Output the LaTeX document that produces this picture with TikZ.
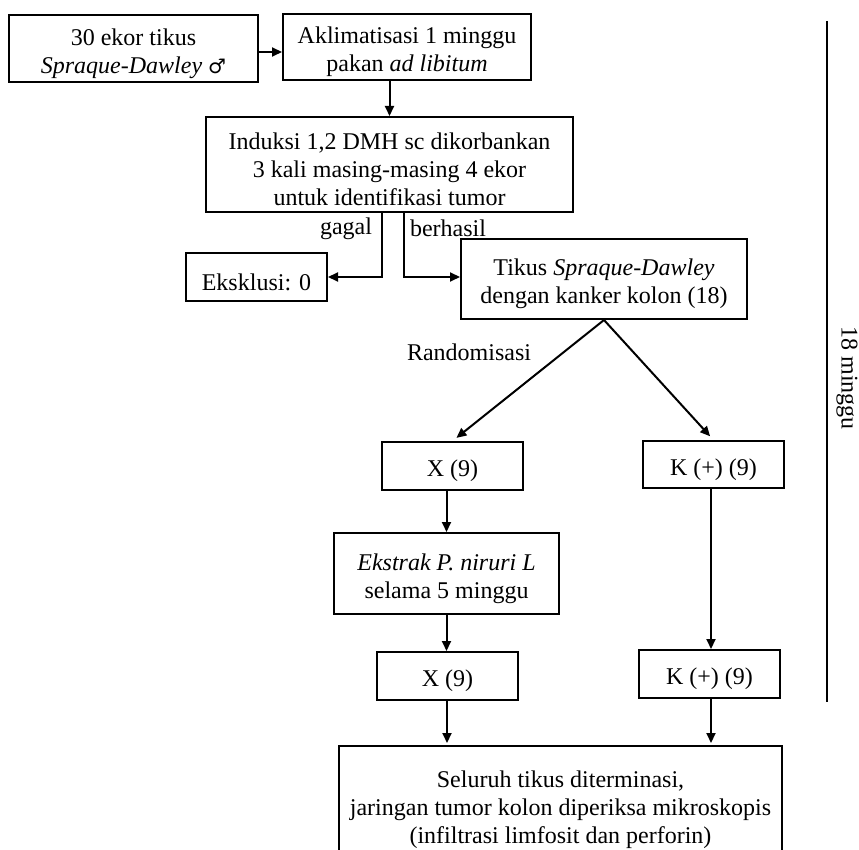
\documentclass[tikz,border=0pt]{standalone}
\usepackage{fontspec}
\setmainfont{Liberation Serif}
\newfontfamily\symfont{DejaVu Sans}
\usetikzlibrary{arrows.meta}
\newcommand{\tl}{\rule{0pt}{26.5pt}}
\tikzset{
  box/.style={draw, line width=2pt, inner sep=0pt, align=center, font=\fontsize{24}{28}\selectfont},
  lbl/.style={inner sep=0pt, font=\fontsize{24}{28}\selectfont},
  arr/.style={line width=2pt, -{Triangle[length=10pt,width=9pt]}},
  plain/.style={line width=2pt}
}
\begin{document}
\begin{tikzpicture}[x=1pt,y=-1pt]
\clip (0,0) rectangle (859,850);
\node[box, minimum width=249pt, minimum height=67pt] (B1) at (133.5,48.5) {\tl 30 ekor tikus\\\textit{Spraque-Dawley} {\symfont\fontsize{20}{28}\selectfont ♂}};
\node[box, minimum width=248pt, minimum height=66pt] (B2) at (407,47) {\tl Aklimatisasi 1 minggu\\pakan \textit{ad libitum}};
\node[box, minimum width=367pt, minimum height=95pt] (B3) at (389.5,164.5) {\tl Induksi 1,2 DMH sc dikorbankan\\3 kali masing-masing 4 ekor\\untuk identifikasi tumor};
\node[box, minimum width=141pt, minimum height=48pt] (Eks) at (256.5,277) {\tl Eksklusi: 0};
\node[box, minimum width=286pt, minimum height=80pt] (Tik) at (604,279) {\tl Tikus \textit{Spraque-Dawley}\\dengan kanker kolon (18)};
\node[box, minimum width=141pt, minimum height=48pt] (X1) at (452.5,466) {\tl X (9)};
\node[box, minimum width=141pt, minimum height=47pt] (K1) at (713.5,464.5) {\tl K (+) (9)};
\node[box, minimum width=225pt, minimum height=81pt] (Ek) at (446.5,573.5) {\tl\textit{Ekstrak P. niruri L}\\selama 5 minggu};
\node[box, minimum width=141pt, minimum height=48pt] (X2) at (447.5,676) {\tl X (9)};
\node[box, minimum width=141pt, minimum height=48pt] (K2) at (709.5,674) {\tl K (+) (9)};
\node[box, minimum width=443pt, minimum height=118pt] (F) at (560.5,805) {\tl Seluruh tikus diterminasi,\\jaringan tumor kolon diperiksa mikroskopis\\(infiltrasi limfosit dan perforin)};

\node[lbl] (gagal) at (346,229) {gagal};
\node[lbl] (berhasil) at (448,228) {berhasil};
\node[lbl] (rand) at (469,352) {Randomisasi};
\node[lbl, rotate=-90] (dur) at (847,378) {18 minggu};

\coordinate (vtop) at (827,21);
\coordinate (vbot) at (827,702);
\draw[plain] (vtop) -- (vbot);

\coordinate (xs) at (447,700);
\coordinate (ks) at (711,698);

\draw[arr] ([yshift=-3.5pt]B1.east) -- ([yshift=-3.5pt]B1.east -| B2.west);
\draw[arr] (B2.south -| B3.north) -- (B3.north);
\draw[arr] ([xshift=-7.5pt]B3.south) |- (Eks.east);
\draw[arr] ([xshift=14.5pt]B3.south) |- (Tik.west |- Eks.east);
\draw[arr, shorten >=5pt] (Tik.south) -- (X1.north);
\draw[arr, shorten >=5pt] (Tik.south) -- (K1.north);
\draw[arr] (X1.south -| Ek.north) -- (Ek.north);
\draw[arr] (Ek.south) -- (Ek.south |- X2.north);
\draw[arr] ([xshift=-2.5pt]K1.south) -- ([xshift=1.5pt]K2.north);
\draw[arr, shorten >=2pt] (xs) -- (xs |- F.north);
\draw[arr, shorten >=2pt] (ks) -- (ks |- F.north);
\end{tikzpicture}
\end{document}
